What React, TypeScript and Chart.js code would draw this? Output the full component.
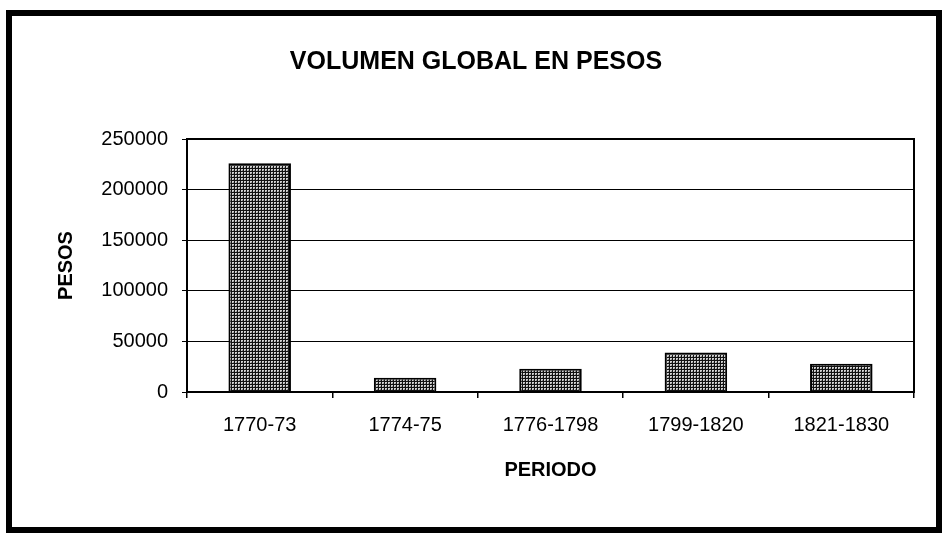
import React, { useEffect, useRef } from "react";
import { Chart, registerables } from "chart.js";
Chart.register(...registerables);

const categories = ["1770-73", "1774-75", "1776-1798", "1799-1820", "1821-1830"];
const values = [226000, 14000, 23000, 39000, 28000];
const yTicks = [0, 50000, 100000, 150000, 200000, 250000];
const chartTitle = "VOLUMEN GLOBAL EN PESOS";
const xTitle = "PERIODO";
const yTitle = "PESOS";

const FONT = "'Liberation Sans', Arial, sans-serif";

const plotFrame = {
  id: "plotFrame",
  afterDatasetsDraw(chart: any) {
    const { ctx, chartArea } = chart;
    const { left, top, right, bottom } = chartArea;
    ctx.save();
    ctx.strokeStyle = "#000";
    ctx.lineWidth = 2;
    ctx.strokeRect(left, top, right - left, bottom - top);
    ctx.restore();
  },
};

export default function App() {
  const ref = useRef<HTMLCanvasElement | null>(null);

  useEffect(() => {
    const canvas = ref.current!;
    const ctx = canvas.getContext("2d")!;
    const tile = document.createElement("canvas");
    tile.width = 3;
    tile.height = 3;
    const tg = tile.getContext("2d")!;
    tg.fillStyle = "#d2d2d2";
    tg.fillRect(0, 0, 3, 3);
    tg.fillStyle = "#111";
    tg.fillRect(0, 0, 3, 1);
    tg.fillRect(0, 0, 1, 3);
    tg.fillStyle = "#8a8a8a";
    tg.fillRect(2, 2, 1, 1);
    const pattern = ctx.createPattern(tile, "repeat");

    const chart = new Chart(canvas, {
      type: "bar",
      data: {
        labels: categories,
        datasets: [
          {
            data: values,
            backgroundColor: pattern as any,
            borderColor: "#000",
            borderWidth: 2,
            barPercentage: 0.43,
            categoryPercentage: 1,
          },
        ],
      },
      plugins: [plotFrame],
      options: {
        responsive: false,
        animation: false,
        layout: { padding: { left: 38, right: 28, top: 10, bottom: 0 } },
        plugins: {
          legend: { display: false },
          tooltip: { enabled: false },
          title: {
            display: true,
            text: chartTitle,
            color: "#000",
            font: { family: FONT, size: 25, weight: "bold" },
            padding: { top: 37, bottom: 62 },
          },
        },
        scales: {
          x: {
            offset: true,
            grid: {
              offset: true,
              drawOnChartArea: false,
              drawTicks: true,
              tickLength: 6,
              color: "#000",
              lineWidth: 1.5,
            },
            border: { display: true, color: "#000", width: 2 },
            ticks: {
              color: "#000",
              font: { family: FONT, size: 20 },
              padding: 15,
              maxRotation: 0,
              autoSkip: false,
            },
            title: {
              display: true,
              text: xTitle,
              color: "#000",
              font: { family: FONT, size: 20, weight: "bold" },
              padding: { top: 0, bottom: 51 },
            },
            afterFit: (s: any) => {
              s.height = 141;
            },
          },
          y: {
            min: 0,
            max: 250000,
            afterBuildTicks: (s: any) => {
              s.ticks = yTicks.map((v) => ({ value: v }));
            },
            grid: {
              color: "#000",
              lineWidth: 1,
              drawTicks: true,
              tickLength: 5,
            },
            border: { display: true, color: "#000", width: 2 },
            ticks: {
              color: "#000",
              font: { family: FONT, size: 20 },
              padding: 14,
              callback: (v: any) => String(v),
            },
            title: {
              display: true,
              text: yTitle,
              color: "#000",
              font: { family: FONT, size: 20, weight: "bold" },
              padding: { top: 16, bottom: 0 },
            },
            afterFit: (s: any) => {
              s.width = 149;
            },
          },
        },
      },
    });
    return () => chart.destroy();
  }, []);

  return (
    <div style={{ position: "fixed", left: 0, top: 0, width: 942, height: 533, background: "#fff" }}>
      <div
        style={{
          position: "absolute",
          left: 6,
          top: 10,
          width: 936,
          height: 523,
          boxSizing: "border-box",
          border: "6px solid #000",
        }}
      />
      <canvas
        ref={ref}
        width={942}
        height={533}
        style={{ position: "absolute", left: 0, top: 0, display: "block" }}
      />
    </div>
  );
}
